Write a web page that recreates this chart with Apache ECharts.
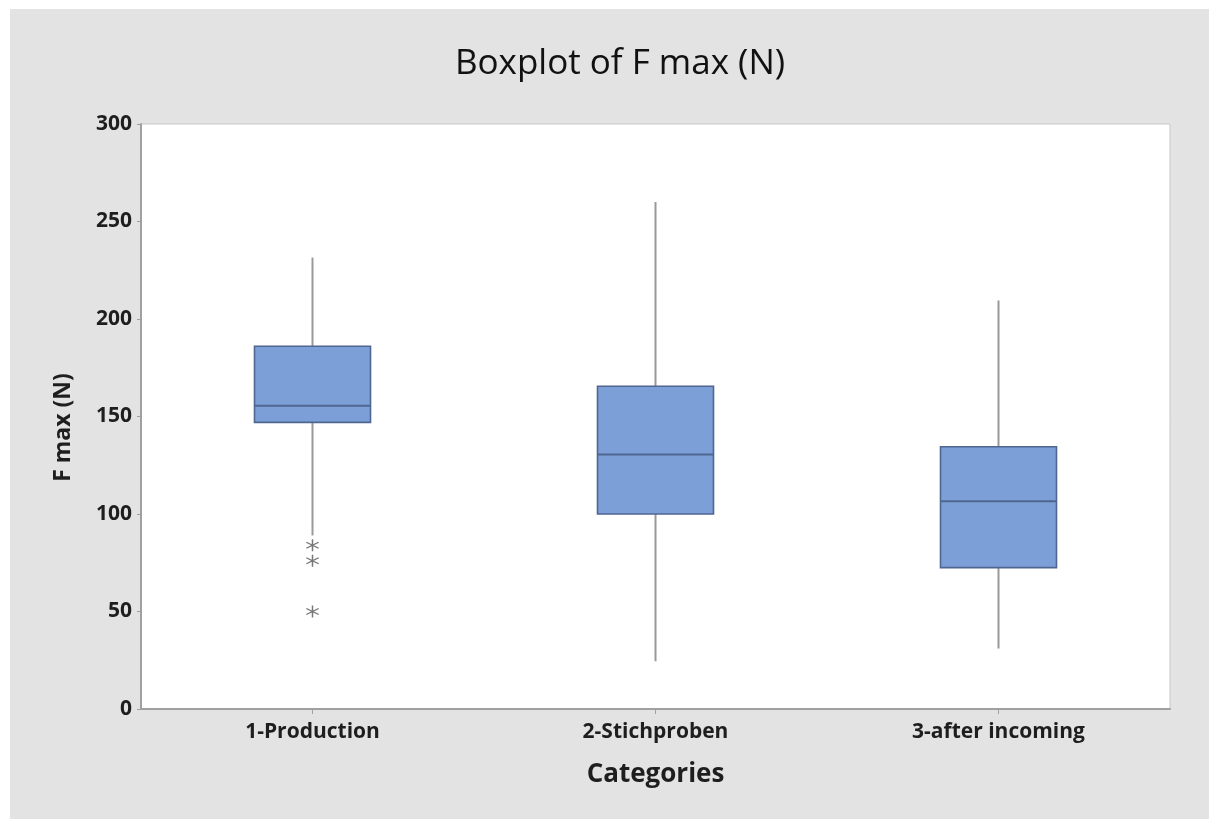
<!DOCTYPE html>
<html>
<head>
<meta charset="utf-8">
<script src="https://cdn.jsdelivr.net/npm/echarts@6/dist/echarts.min.js"></script>
<style>
  html, body { margin: 0; padding: 0; background: #ffffff; overflow: hidden; width: 1209px; height: 819px; }
  #chart { position: absolute; left: 10px; top: 9px; width: 1199px; height: 810px; background: #e3e3e3; }
</style>
</head>
<body>
<div id="chart"></div>
<script>
// ---- data ----
const categories = ['1-Production', '2-Stichproben', '3-after incoming'];
const whiskerLow  = [89, 24.5, 31];
const q1Values    = [147, 100, 72.5];
const medians     = [155.5, 130.5, 106.5];
const q3Values    = [186, 165.5, 134.5];
const whiskerHigh = [231.5, 260, 209.5];
const outlierCategory = ['1-Production', '1-Production', '1-Production'];
const outlierValues   = [84, 76, 50];
const yTicks = [0, 50, 100, 150, 200, 250, 300];

const boxData = categories.map((c, i) => [i, whiskerLow[i], q1Values[i], medians[i], q3Values[i], whiskerHigh[i]]);
const outlierData = outlierValues.map((v, i) => [outlierCategory[i], v]);

// six-armed asterisk outline (three thin bars)
const asterisk = 'path://M-0.6,-6 L0.6,-6 L0.6,6 L-0.6,6 Z ' +
  'M-4.68,-3.52 L5.28,2.48 L4.68,3.52 L-5.28,-2.48 Z ' +
  'M5.28,-2.48 L-4.68,3.52 L-5.28,2.48 L4.68,-3.52 Z';

const chart = echarts.init(document.getElementById('chart'));
const textColor = '#1e1e1e';
const fontFam = '"Open Sans", "Noto Sans", sans-serif';

chart.setOption({
  animation: false,
  title: {
    text: 'Boxplot of F max (N)',
    left: 605,
    top: 33,
    textAlign: 'center',
    textStyle: { fontFamily: fontFam, fontSize: 35, fontWeight: 'normal', color: '#111111' }
  },
  grid: {
    left: 131, top: 115, width: 1029, height: 585,
    show: true, backgroundColor: '#ffffff', borderColor: '#c8c8c8', borderWidth: 1
  },
  xAxis: {
    type: 'category',
    data: categories,
    name: 'Categories',
    nameLocation: 'middle',
    nameGap: 53,
    nameTextStyle: { fontFamily: fontFam, fontSize: 26, fontWeight: 'bold', color: textColor },
    axisLine: { lineStyle: { color: '#a0a0a0', width: 2 } },
    axisTick: { show: true, alignWithLabel: true, length: 5, lineStyle: { color: '#a0a0a0' } },
    axisLabel: { margin: 13, fontFamily: fontFam, fontSize: 21, fontWeight: 'bold', color: textColor },
    splitLine: { show: false }
  },
  yAxis: {
    type: 'value',
    min: yTicks[0], max: yTicks[yTicks.length - 1], interval: 50,
    name: 'F max (N)',
    nameLocation: 'middle',
    nameRotate: 90,
    nameGap: 66,
    nameTextStyle: { fontFamily: fontFam, fontSize: 23, fontWeight: 'bold', color: textColor, padding: [0, 22, 0, 0] },
    axisLine: { show: true, lineStyle: { color: '#a0a0a0', width: 2 } },
    axisTick: { show: true, length: 4, lineStyle: { color: '#a0a0a0' } },
    axisLabel: { margin: 9, fontFamily: fontFam, fontSize: 21, fontWeight: 'bold', color: textColor },
    splitLine: { show: false }
  },
  series: [
    {
      type: 'custom',
      data: boxData,
      encode: { x: 0, y: [1, 2, 3, 4, 5] },
      renderItem: function (params, api) {
        const idx = api.value(0);
        const pLow = api.coord([idx, api.value(1)]);
        const pQ1 = api.coord([idx, api.value(2)]);
        const pMed = api.coord([idx, api.value(3)]);
        const pQ3 = api.coord([idx, api.value(4)]);
        const pHigh = api.coord([idx, api.value(5)]);
        const half = 58;
        const x = pQ1[0];
        const whiskerStyle = { stroke: '#999999', lineWidth: 2 };
        return {
          type: 'group',
          children: [
            { type: 'line', shape: { x1: x, y1: pHigh[1], x2: x, y2: pQ3[1] }, style: whiskerStyle },
            { type: 'line', shape: { x1: x, y1: pQ1[1], x2: x, y2: pLow[1] }, style: whiskerStyle },
            { type: 'rect', shape: { x: x - half, y: pQ3[1], width: half * 2, height: pQ1[1] - pQ3[1] },
              style: { fill: '#7c9fd8', stroke: '#4f6690', lineWidth: 1.6 } },
            { type: 'line', shape: { x1: x - half, y1: pMed[1], x2: x + half, y2: pMed[1] },
              style: { stroke: '#4f6690', lineWidth: 2 } }
          ]
        };
      },
      z: 3
    },
    {
      type: 'scatter',
      data: outlierData,
      symbol: asterisk,
      symbolSize: [13, 12],
      itemStyle: { color: '#555555' },
      z: 4
    }
  ]
});
</script>
</body>
</html>
